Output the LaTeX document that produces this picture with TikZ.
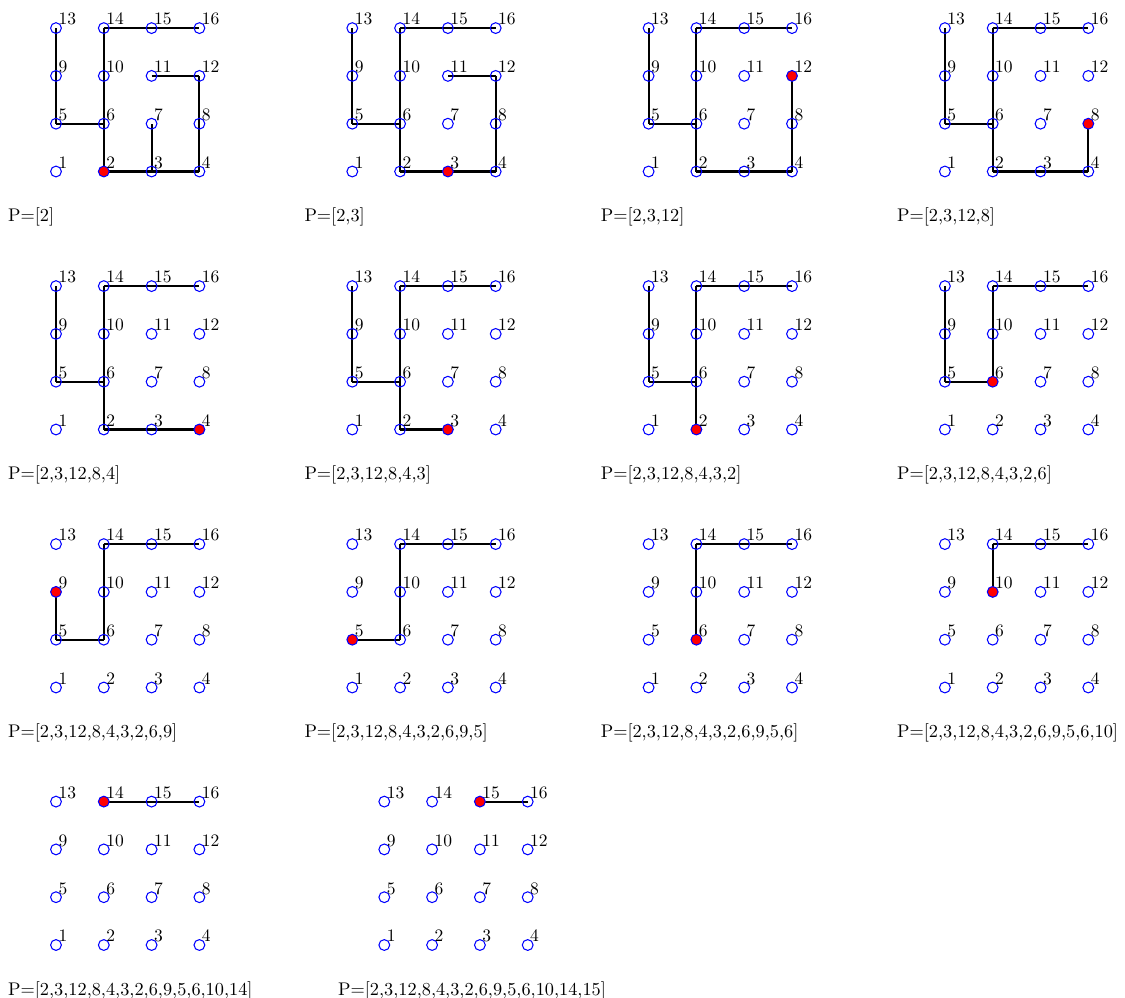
\documentclass[tikz,border=0pt]{standalone}
\usepackage{fontspec}
\setmainfont{lmroman10-regular.otf}
\pgfdeclarelayer{bg}
\pgfsetlayers{bg,main}
\tikzset{
  gnode/.style={circle, draw=blue, line width=1.05pt, minimum size=10.8pt, inner sep=0pt},
  rednode/.style={gnode, fill=red},
  edge/.style={draw=black, line width=2.1pt},
  numlbl/.style={anchor=base west, inner sep=0pt, xshift=2.3pt, yshift=3.2pt, font=\fontsize{17.5}{17.5}\selectfont},
  caption/.style={anchor=base west, inner sep=0pt, font=\fontsize{18.3}{18.3}\selectfont}
}
% #1 id, #2 grid x offset, #3 y offset, #4 red node, #5 edges, #6 caption, #7 caption x
\newcommand{\drawpanel}[7]{%
  \foreach \i in {1,...,16}{%
    \pgfmathtruncatemacro\cc{mod(\i-1,4)}%
    \pgfmathtruncatemacro\rr{div(\i-1,4)}%
    \ifnum\i=#4\relax\def\st{rednode}\else\def\st{gnode}\fi
    \node[\st] (p#1n\i) at ({#2+56+47.8*\cc},{#3+171.5-47.8*\rr}) {};
    \node[numlbl] (p#1l\i) at (p#1n\i.center) {\i};
  }
  \begin{pgfonlayer}{bg}
    \foreach \a/\b in {#5} \draw[edge] (p#1n\a.center) -- (p#1n\b.center);
  \end{pgfonlayer}
  \node[caption] (p#1cap) at ({#7},{#3+221.5}) {#6};
}
\begin{document}
\begin{tikzpicture}[x=1pt,y=-1pt]
\useasboundingbox (0,0) rectangle (1125,998);
\drawpanel{1}{0}{0}{2}{13/9,9/5,5/6,6/2,6/10,10/14,14/15,15/16,11/12,12/8,8/4,4/3,3/2,3/7}{P=[2]}{8}
\drawpanel{2}{296.3}{0}{3}{13/9,9/5,5/6,6/2,6/10,10/14,14/15,15/16,11/12,12/8,8/4,4/3,3/2}{P=[2,3]}{304.3}
\drawpanel{3}{592.6}{0}{12}{13/9,9/5,5/6,6/2,6/10,10/14,14/15,15/16,12/8,8/4,4/3,3/2}{P=[2,3,12]}{600.6}
\drawpanel{4}{888.9}{0}{8}{13/9,9/5,5/6,6/2,6/10,10/14,14/15,15/16,8/4,4/3,3/2}{P=[2,3,12,8]}{896.9}
\drawpanel{5}{0}{258}{4}{13/9,9/5,5/6,6/2,6/10,10/14,14/15,15/16,4/3,3/2}{P=[2,3,12,8,4]}{8}
\drawpanel{6}{296.3}{258}{3}{13/9,9/5,5/6,6/2,6/10,10/14,14/15,15/16,3/2}{P=[2,3,12,8,4,3]}{304.3}
\drawpanel{7}{592.6}{258}{2}{13/9,9/5,5/6,6/2,6/10,10/14,14/15,15/16}{P=[2,3,12,8,4,3,2]}{600.6}
\drawpanel{8}{888.9}{258}{6}{13/9,9/5,5/6,6/10,10/14,14/15,15/16}{P=[2,3,12,8,4,3,2,6]}{896.9}
\drawpanel{9}{0}{516}{9}{9/5,5/6,6/10,10/14,14/15,15/16}{P=[2,3,12,8,4,3,2,6,9]}{8}
\drawpanel{10}{296.3}{516}{5}{5/6,6/10,10/14,14/15,15/16}{P=[2,3,12,8,4,3,2,6,9,5]}{304.3}
\drawpanel{11}{592.6}{516}{6}{6/10,10/14,14/15,15/16}{P=[2,3,12,8,4,3,2,6,9,5,6]}{600.6}
\drawpanel{12}{888.9}{516}{10}{10/14,14/15,15/16}{P=[2,3,12,8,4,3,2,6,9,5,6,10]}{896.9}
\drawpanel{13}{0}{773.5}{14}{14/15,15/16}{P=[2,3,12,8,4,3,2,6,9,5,6,10,14]}{8}
\drawpanel{14}{328.3}{773.5}{15}{15/16}{P=[2,3,12,8,4,3,2,6,9,5,6,10,14,15]}{338}
\end{tikzpicture}
\end{document}
